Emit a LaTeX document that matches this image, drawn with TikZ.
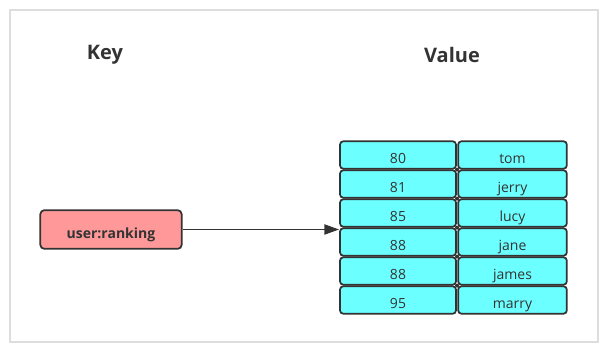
\documentclass[tikz,border=0pt]{standalone}
\usepackage{fontspec}
\setmainfont{Open Sans}
\usepackage{xcolor}
\usetikzlibrary{arrows.meta, positioning, calc}

\definecolor{cellcyan}{HTML}{6CFFFF}
\definecolor{keyred}{HTML}{FF9999}
\definecolor{edgegray}{HTML}{333333}
\definecolor{framegray}{HTML}{DDDDDD}

\begin{document}
\begin{tikzpicture}[
    x=0.75pt, y=-0.75pt,
    font=\fontsize{10.5}{12}\selectfont,
    title/.style={font=\fontsize{15}{18}\selectfont\bfseries, text=edgegray},
    scorecell/.style={draw=edgegray, fill=cellcyan, line width=1.3pt, rounded corners=2.5pt,
        minimum width=87pt, minimum height=20.6pt, inner sep=0pt, text=edgegray,
        text height=2.5ex, text depth=0pt},
    membercell/.style={scorecell, minimum width=81.5pt},
    keybox/.style={draw=edgegray, fill=keyred, line width=1.3pt, rounded corners=3pt,
        minimum width=106pt, minimum height=29pt, inner sep=0pt, text=edgegray,
        font=\fontsize{10.5}{12}\selectfont\bfseries, text height=2.5ex, text depth=0pt},
    arrow/.style={edgegray, line width=1.4pt, -{Triangle[length=11pt, width=7.5pt]}}
]

% ---------- page and frame ----------
\useasboundingbox (0,0) rectangle (611,351);
\draw[framegray, line width=0.8pt] (10,10) rectangle (598,342);

% ---------- titles ----------
\node[title] (keytitle) at (105,55) {Key};
\node[title] (valuetitle) at (452,55) {Value};

% ---------- sorted set: score | member ----------
\foreach \i/\score/\member in {1/80/tom, 2/81/jerry, 3/85/lucy, 4/88/jane, 5/88/james, 6/95/marry}{
    \node[scorecell] (s\i) at (398,155+29*\i-29) {\score};
    \node[membercell] (m\i) at (512.5,155+29*\i-29) {\member};
}

% joints between the columns
\foreach \i in {1,...,5}{
    \fill[edgegray] ($(s\i.south east)!0.5!(m\i.south west)$) circle (2);
}

% ---------- key ----------
\node[keybox] (key) at (111,229.5) {user:ranking};

% ---------- arrow: key -> value ----------
\coordinate (hit) at ($(s3.south west)!0.5!(s4.north west)$);
\draw[arrow] (key.east) -- (key.east -| hit);

\end{tikzpicture}
\end{document}
